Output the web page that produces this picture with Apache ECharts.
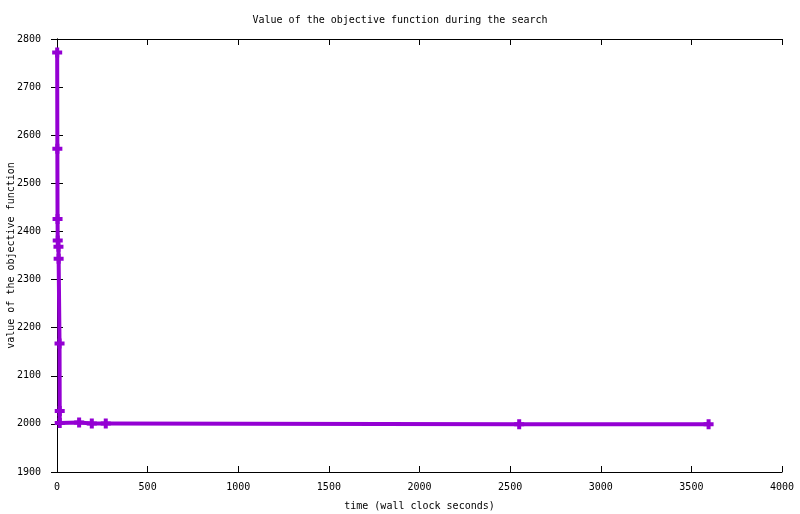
<!DOCTYPE html>
<html>
<head>
<meta charset="utf-8">
<script src="https://cdn.jsdelivr.net/npm/echarts@6/dist/echarts.min.js"></script>
<style>
  html, body { margin: 0; padding: 0; background: #fff; }
  #chart { width: 800px; height: 514px; }
</style>
</head>
<body>
<div id="chart"></div>
<script>
// time in seconds, objective value
const times = [1, 2, 3, 4, 8, 9, 14, 15, 15, 122, 192, 269, 2550, 3595];
const values = [2772, 2572, 2426, 2381, 2368, 2343, 2167, 2027, 2002, 2003, 2001, 2001, 1999, 1999];

const font = 'DejaVu Sans Mono';
const plus = 'path://M3,0H7V3H10V7H7V10H3V7H0V3H3Z';

let myChart = echarts.init(document.getElementById('chart'));

let tickStyle = { show: true, inside: true, length: 6, lineStyle: { color: '#000', width: 1 } };
let plain = v => String(v);

let option = {
    animation: false,
    backgroundColor: '#fff',
    title: {
        text: 'Value of the objective function during the search',
        left: 'center',
        top: 10,
        textStyle: { fontFamily: font, fontSize: 10, fontWeight: 'normal', color: '#000' }
    },
    grid: { left: 57, right: 18, top: 39, bottom: 42, containLabel: false, outerBoundsMode: 'none' },
    xAxis: [
        {
            type: 'value', min: 0, max: 4000, interval: 500,
            name: 'time (wall clock seconds)', nameLocation: 'middle', nameGap: 29,
            nameMoveOverlap: false,
            nameTextStyle: { fontFamily: font, fontSize: 10, color: '#000' },
            axisLine: { lineStyle: { color: '#000', width: 1 } },
            axisTick: tickStyle,
            axisLabel: { fontFamily: font, fontSize: 10, color: '#000', margin: 10, formatter: plain },
            splitLine: { show: false }
        },
        {
            type: 'value', position: 'top', min: 0, max: 4000, interval: 500,
            axisLine: { show: true, lineStyle: { color: '#000', width: 1 } },
            axisTick: tickStyle,
            axisLabel: { show: false },
            splitLine: { show: false }
        }
    ],
    yAxis: [
        {
            type: 'value', min: 1900, max: 2800, interval: 100,
            name: 'value of the objective function', nameLocation: 'middle', nameGap: 41,
            nameRotate: 90, nameMoveOverlap: false,
            nameTextStyle: { fontFamily: font, fontSize: 10, color: '#000' },
            axisLine: { show: true, lineStyle: { color: '#000', width: 1 } },
            axisTick: tickStyle,
            axisLabel: { fontFamily: font, fontSize: 10, color: '#000', margin: 16, formatter: plain },
            splitLine: { show: false }
        },
        {
            type: 'value', position: 'right', min: 1900, max: 2800, interval: 100,
            axisLine: { show: true, lineStyle: { color: '#000', width: 1 } },
            axisTick: tickStyle,
            axisLabel: { show: false },
            splitLine: { show: false }
        }
    ],
    series: [
        {
            type: 'line',
            data: times.map((t, i) => [t, values[i]]),
            symbol: plus,
            symbolSize: 10,
            showAllSymbol: true,
            lineStyle: { color: '#9400d3', width: 4 },
            itemStyle: { color: '#9400d3' },
            z: 5
        }
    ]
};

myChart.setOption(option);
</script>
</body>
</html>
